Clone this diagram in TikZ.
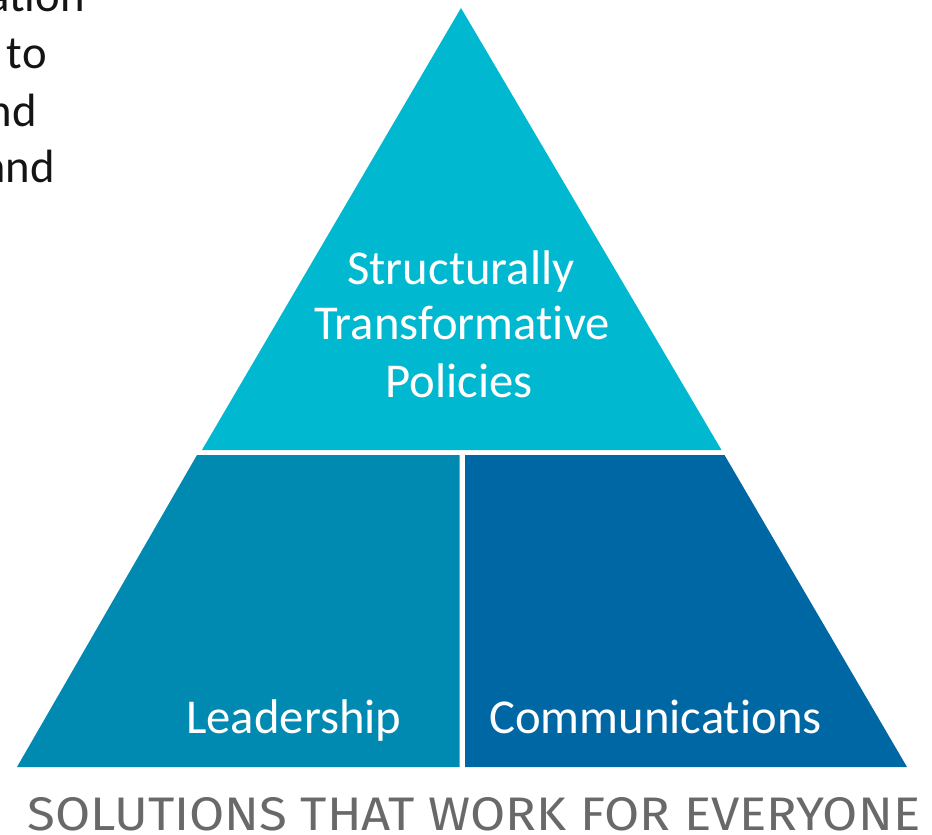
\documentclass[tikz,border=0pt]{standalone}
\usepackage{graphicx}
\usepackage{fontspec}
\setmainfont{Carlito}[Ligatures=NoCommon]
\newfontfamily\tagfont{Fira Sans}
\definecolor{topc}{RGB}{0,185,208}
\definecolor{leftc}{RGB}{0,138,178}
\definecolor{rightc}{RGB}{0,103,165}
\definecolor{taggray}{RGB}{105,105,105}
\begin{document}
\begin{tikzpicture}[x=0.75pt,y=-0.75pt,
  lbl/.style={text=white,inner sep=0pt,font=\fontsize{36.5}{42}\selectfont},
  side/.style={text=black!92,inner sep=0pt,anchor=base east,font=\fontsize{35}{42}\selectfont},
  piece/.style={draw=none}]
\useasboundingbox (0,0) rectangle (932,835);
\begin{scope}
\clip (0,0) rectangle (932,835);
% pyramid pieces
\fill[topc,piece] (461,8) -- (721.5,450) -- (202,450) -- cycle;
\fill[leftc,piece] (197,455) -- (459.5,455) -- (459.5,767) -- (17,767) -- cycle;
\fill[rightc,piece] (465,455) -- (724.5,455) -- (907,767) -- (465,767) -- cycle;
% labels
\node[lbl,anchor=base] (t1) at (461,284) {Structurally};
\node[lbl,anchor=base] (t2) at (462,339) {Transformative};
\node[lbl,anchor=base] (t3) at (459,397) {Policies};
\node[lbl,anchor=base west] (lead) at (186,733) {Leadership};
\node[lbl,anchor=base east] (comm) at (822,733) {Communications};
% clipped text on the left
\node[side] (s1) at (85,12) {ation};
\node[side] (s2) at (47,68) {to};
\node[side] (s3) at (37,126) {nd};
\node[side] (s4) at (55,182) {and};
% tagline
\node[inner sep=0pt,anchor=base west,text=taggray] (tag) at (27,830)
  {\resizebox{669.75pt}{24.75pt}{\tagfont\fontsize{36}{36}\selectfont SOLUTIONS THAT WORK FOR EVERYONE}};
\end{scope}
\end{tikzpicture}
\end{document}
